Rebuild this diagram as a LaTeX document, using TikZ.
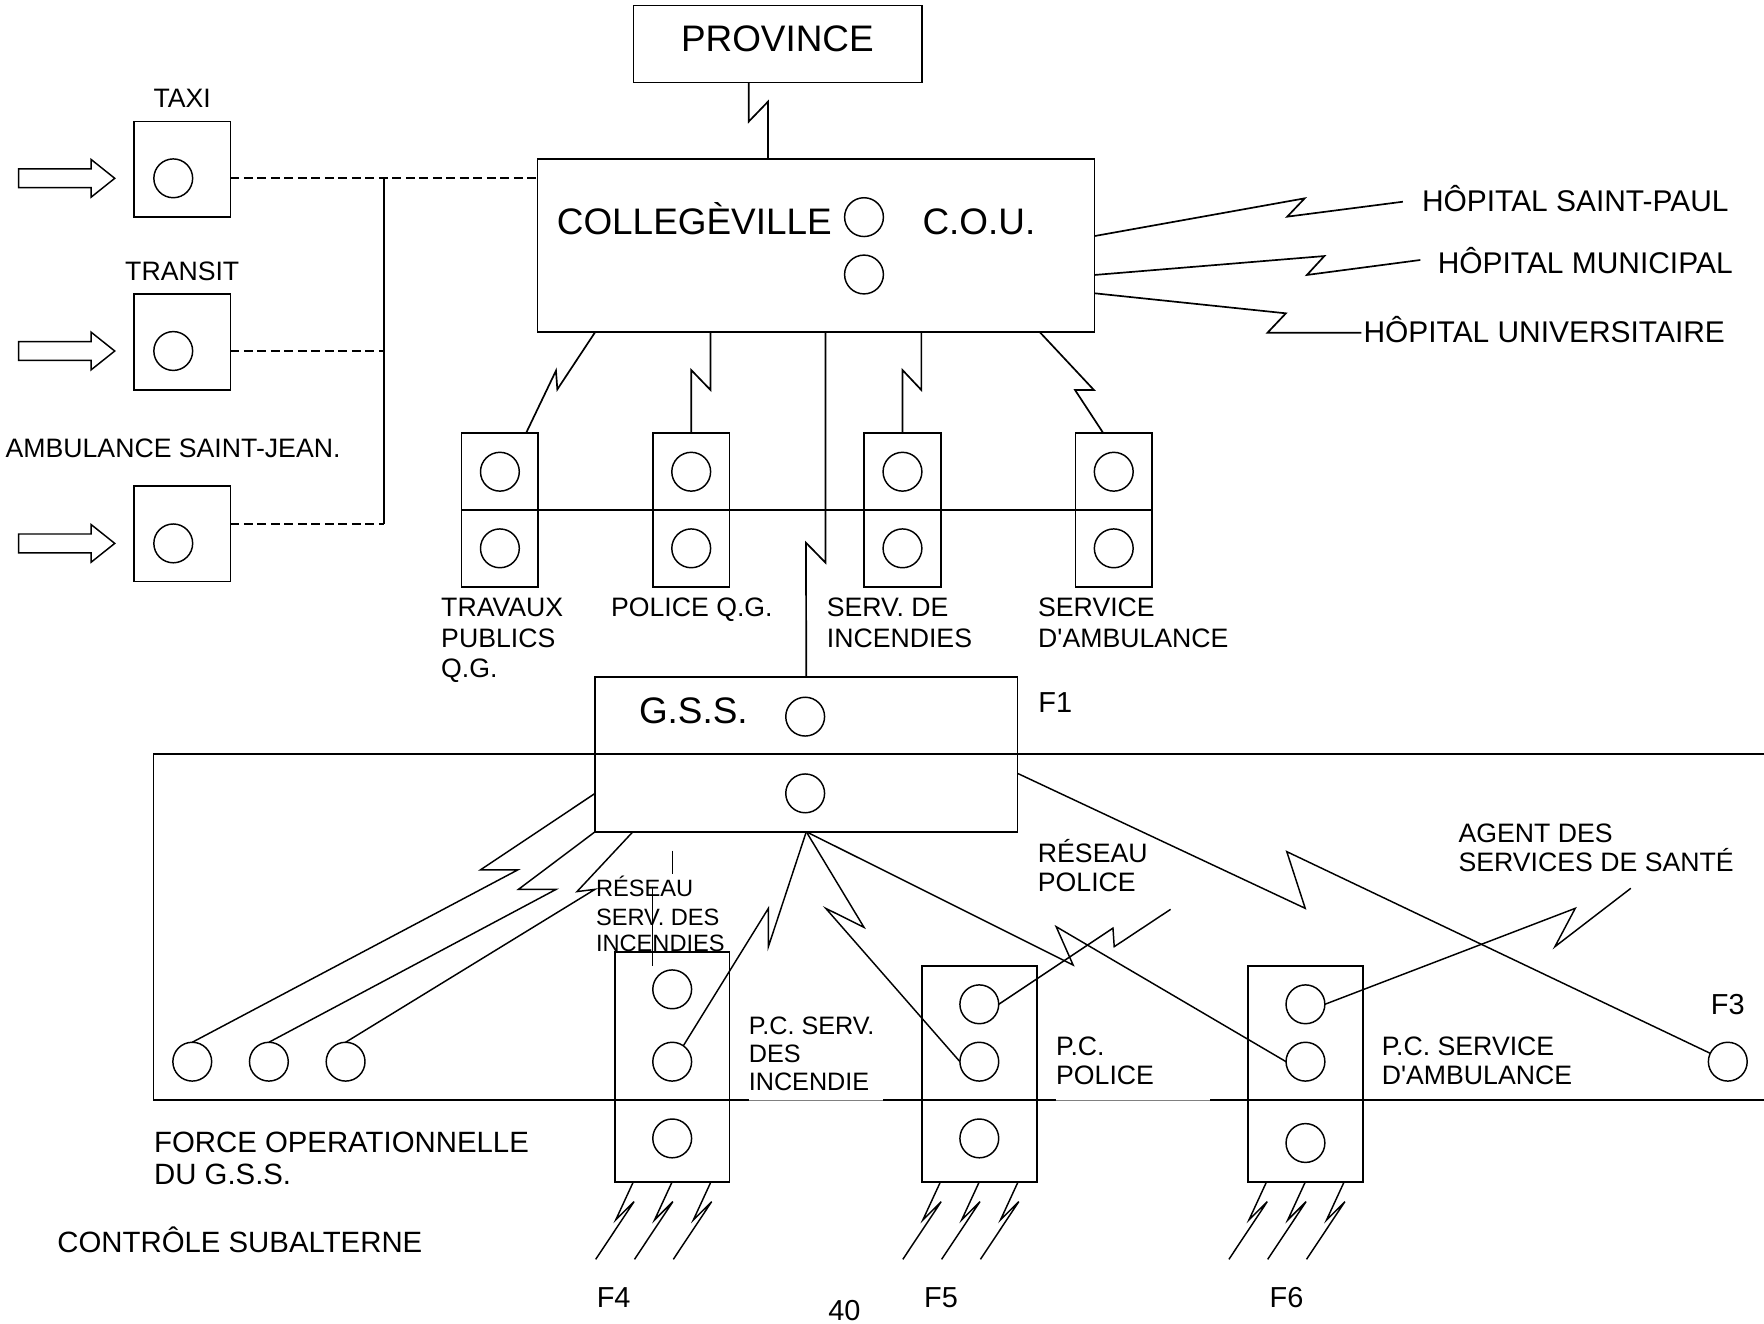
\documentclass[tikz,border=0pt]{standalone}
\usepackage{fontspec}
\setmainfont{Liberation Sans}
\usetikzlibrary{calc}
\begin{document}
\begin{tikzpicture}[x=1pt,y=-1pt, line width=1.5pt, line join=miter,
  every node/.style={inner sep=0pt, outer sep=0pt},
  box/.style={draw, rectangle, line width=1.5pt},
  port/.style={draw, circle, minimum size=34.5pt, line width=1.3pt},
  lab/.style={anchor=base west, font=\fontsize{23.7}{28}\selectfont},
  labc/.style={anchor=base, font=\fontsize{23.7}{28}\selectfont},
  hosp/.style={anchor=base west, font=\fontsize{26.6}{30}\selectfont},
  biglab/.style={anchor=base west, font=\fontsize{32.8}{38}\selectfont},
  flab/.style={anchor=base, font=\fontsize{25.7}{30}\selectfont},
  smlab/.style={anchor=base west, font=\fontsize{21}{25}\selectfont},
  pclab/.style={anchor=base west, font=\fontsize{22.4}{26}\selectfont},
  bglab/.style={anchor=base west, font=\fontsize{26.1}{30}\selectfont},
  dsh/.style={line width=1.6pt, dash pattern=on 8pt off 4pt},
  wire/.style={line width=1.3pt},
  fat/.style={draw, line width=1.3pt, line join=miter}
]
\useasboundingbox (0,0) rectangle (1568,1176);

% ---------------- PROVINCE and C.O.U.
\node[box, minimum width=256.4pt, minimum height=68.2pt] (prov) at (691.4,39.1) {};
\node[biglab, anchor=base] (provt) at (691,45.7) {PROVINCE};
\node[box, minimum width=495.2pt, minimum height=153.8pt] (cou) at (725.4,218.5) {};
\node[biglab] (coll) at (495,208.7) {COLLEGÈVILLE};
\node[biglab] (coutxt) at (820,208.7) {C.O.U.};
\node[port] (cou1) at (768,193) {};
\node[port] (cou2) at (768,244) {};
\draw ([xshift=-25.8pt]prov.south) -- (665.6,108) -- (682.6,90.4) -- ([xshift=-42.8pt]cou.north);

% ---------------- left units
\node[box, minimum width=85.8pt, minimum height=84.6pt] (taxi) at (161.9,150.3) {};
\node[port] (taxic) at (154,158.5) {};
\node[labc] (taxil) at (162,95.4) {TAXI};
\node[box, minimum width=85.8pt, minimum height=85.1pt] (transit) at (161.9,304.15) {};
\node[port] (transitc) at (154,312) {};
\node[labc] (transitl) at (162,249) {TRANSIT};
\node[box, minimum width=85.8pt, minimum height=85.3pt] (sj) at (161.9,474.35) {};
\node[port] (sjc) at (154,483) {};
\node[lab] (sjl) at (5,406.9) {AMBULANCE SAINT-JEAN.};
\foreach \c in {taxic,transitc,sjc}
  \draw[fat] ($(\c)+(-52,0)$) -- ++(-21,-16.75) -- ++(0,8.4) -- ++(-64.5,0)
     -- ++(0,16.7) -- ++(64.5,0) -- ++(0,8.4) -- cycle;
\coordinate (jt) at (341.6,158.5);
\coordinate (jb) at (341.6,466);
\draw[dsh] (taxi.east |- taxic) -- (cou.west |- taxic);
\draw[dsh] (transit.east |- transitc) -- (jt |- transitc);
\draw[dsh] (sj.east |- jb) -- (jb);
\draw (jt) -- (jb);

% ---------------- hospitals
\node[hosp] (hsp) at (1264,188) {HÔPITAL SAINT-PAUL};
\node[hosp] (hmu) at (1278,243) {HÔPITAL MUNICIPAL};
\node[hosp] (hun) at (1212,304) {HÔPITAL UNIVERSITAIRE};
\coordinate (e1) at (1247,179.3);
\coordinate (e2) at (1262.5,231.1);
\coordinate (e3) at (1210,295.7);
\draw ([yshift=8.7pt]cou.east) -- (1159.7,176.3) -- (1144.2,192.6) -- (e1);
\draw ([yshift=-25.9pt]cou.east) -- (1177.2,227.6) -- (1161.7,244.4) -- (e2);
\draw ([yshift=-42.2pt]cou.east) -- (1143,278.5) -- (1126.7,295.7) -- (e3);

% ---------------- headquarters
\foreach \n/\x in {trav/444.35, pol/614.4, serv/802.2, amb/990} {
  \node[box, minimum width=68.1pt, minimum height=136.5pt] (\n) at (\x,453.25) {};
  \node[port] (\n1) at (\x,419.3) {};
  \node[port] (\n2) at (\x,487.4) {};
}
\draw (trav.west) -- (amb.east);
\draw ([xshift=-196.5pt]cou.south) -- (495.4,346.1) -- (494.2,329.5) -- ([xshift=23.25pt]trav.north);
\draw ([xshift=-93.8pt]cou.south) -- (631.6,346.7) -- (614.4,328.9) -- (pol.north);
\draw ([xshift=93.6pt]cou.south) -- (819,346.7) -- (802.2,328.9) -- (serv.north);
\draw ([xshift=199pt]cou.south) -- (972.4,346.7) -- (955.6,346.7) -- ([xshift=-9.3pt]amb.north);

\node[lab] (travl1) at (392.2,548.4) {TRAVAUX};
\node[lab] (travl2) at (392.2,575.4) {PUBLICS};
\node[lab] (travl3) at (392.2,602.4) {Q.G.};
\node[lab] (poll) at (543.2,548.4) {POLICE Q.G.};
\node[lab] (servl1) at (735,548.4) {SERV. DE};
\node[lab] (servl2) at (735,575.4) {INCENDIES};
\node[lab] (ambl1) at (922.8,548.4) {SERVICE};
\node[lab] (ambl2) at (922.8,575.4) {D\textquotesingle AMBULANCE};

% ---------------- G.S.S.
\draw (1568,670.5) -- (136.5,670.5) -- (136.5,977.8) -- (665.4,977.8);
\draw (785.3,977.8) -- (938.4,977.8);
\draw (1075.6,977.8) -- (1568,977.8);
\draw[line width=0.6pt, gray] (665.4,977.8) -- (785.3,977.8);
\draw[line width=0.6pt, gray] (938.4,977.8) -- (1075.6,977.8);

\node[box, minimum width=375.4pt, minimum height=137.3pt] (gss) at (716.7,670.65) {};
\node[biglab] (gsst) at (568,642.7) {G.S.S.};
\node[port] (gss1) at (715.7,637) {};
\node[port] (gss2) at (715.7,705.2) {};
\node[flab] (f1) at (938,633.2) {F1};
\draw ([xshift=8.3pt]cou.south) -- (733.7,500.1) -- (716.4,482.4) -- (gss.north);

% small units of the task force
\node[port] (s1) at (170.9,943.7) {};
\node[port] (s2) at (239,943.7) {};
\node[port] (s3) at (307.2,943.7) {};
\draw[wire] ([yshift=-34.55pt]gss.west) -- (426.9,773.3) -- (460.1,773.3) -- (s1.north);
\draw[wire] (gss.south west) -- (460.9,790.5) -- (494.4,790.5) -- (s2.north);
\draw[wire] ([xshift=33.6pt]gss.south west) -- (512.9,792.5) -- (528.9,790.5) -- (s3.north);

% F4, F5, F6 posts
\node[box, minimum width=102pt, minimum height=203.9pt] (f4) at (597.5,948.45) {};
\node[port] (f4a) at (597.5,879.4) {};
\node[port] (f4b) at (597.5,943.7) {};
\node[port] (f4c) at (597.5,1011.9) {};
\node[box, minimum width=102pt, minimum height=191.7pt] (f5) at (870.5,954.55) {};
\node[port] (f5a) at (870.5,892.7) {};
\node[port] (f5b) at (870.5,943.7) {};
\node[port] (f5c) at (870.5,1011.9) {};
\node[box, minimum width=102.1pt, minimum height=191.7pt] (f6) at (1160.35,954.55) {};
\node[port] (f6a) at (1160.4,892.7) {};
\node[port] (f6b) at (1160.4,943.7) {};
\node[port] (f6c) at (1160.4,1016) {};
\node[port] (f3c) at (1535.8,943.7) {};

\draw[wire] (gss.south) -- (683,841.5) -- (683,807.4) -- (f4b.55);
\draw[wire] (gss.south) -- (768,824.3) -- (734,807.4) -- (f5b.west);
\draw[wire] (gss.south) -- (953.9,857.8) -- (938.8,823.7) -- (f6b.west);
\draw[wire] ([yshift=-16.75pt]gss.east) -- (1160.2,807.4) -- (1143.8,757) -- (f3c);
\coordinate (rp) at (1040.5,808.3);
\coordinate (ag) at (1449.6,789.6);
\draw[wire] (f5a.east) -- (989.3,825) -- (990.4,841.5) -- (rp);
\draw[wire] (f6a.east) -- (1400.2,807.4) -- (1382.1,841.5) -- (ag);
\draw[wire] (597.6,756.1) -- (597.6,776.9);
\draw[wire] (580.1,789.6) -- (580.1,858.7);

\foreach \b in {f4,f5,f6}
  \foreach \o in {-34.5,0,34.5}
    \draw[wire] ([xshift=\o pt]\b.south) -- ++(-15.7,34) -- ++(16.3,-16.3) -- ++(-34.1,51.3);

% labels of the lower part
\node[smlab] (rs1) at (529.8,797.1) {RÉSEAU};
\node[smlab] (rs2) at (529.8,822.3) {SERV. DES};
\node[smlab] (rs3) at (529.8,845.5) {INCENDIES};
\node[lab] (rpl1) at (922.6,766.4) {RÉSEAU};
\node[lab] (rpl2) at (922.6,792.4) {POLICE};
\node[lab] (agl1) at (1296.5,749.1) {AGENT DES};
\node[lab] (agl2) at (1296.5,774.4) {SERVICES DE SANTÉ};
\node[pclab] (pc1) at (665.6,919.4) {P.C. SERV.};
\node[pclab] (pc2) at (665.6,944.4) {DES};
\node[pclab] (pc3) at (665.6,968.9) {INCENDIE};
\node[lab] (pp1) at (938.8,938.4) {P.C.};
\node[lab] (pp2) at (938.8,964) {POLICE};
\node[lab] (pa1) at (1228.3,938.4) {P.C. SERVICE};
\node[lab] (pa2) at (1228.3,964) {D\textquotesingle AMBULANCE};
\node[flab] (f3) at (1535.8,902.2) {F3};
\node[bglab] (fo1) at (137,1024.3) {FORCE OPERATIONNELLE};
\node[bglab] (fo2) at (137,1053.3) {DU G.S.S.};
\node[bglab] (cs) at (51,1113.3) {CONTRÔLE SUBALTERNE};
\node[flab] (f4l) at (545.5,1161.9) {F4};
\node[flab] (f5l) at (836.4,1161.9) {F5};
\node[flab] (f6l) at (1143.6,1161.9) {F6};
\node[flab] (pg) at (750.6,1173.4) {40};
\end{tikzpicture}
\end{document}
